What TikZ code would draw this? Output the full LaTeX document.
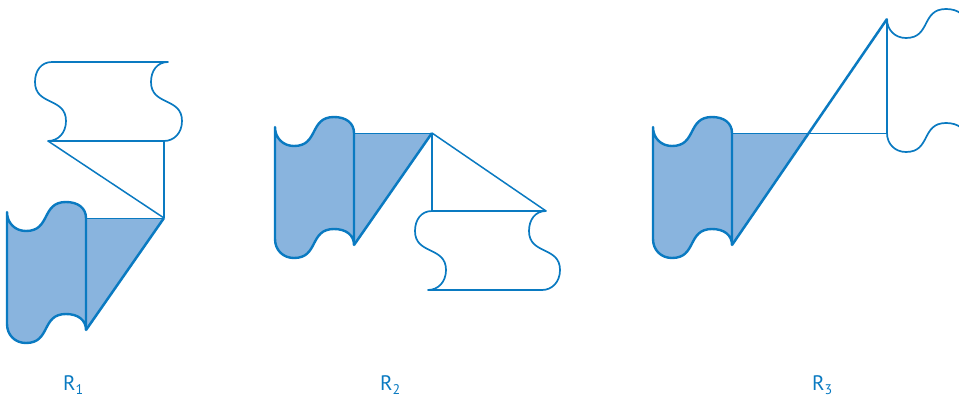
\documentclass[tikz,border=0pt]{standalone}
\usepackage{fontspec}
\newfontfamily\labelfont{PT Sans}
\definecolor{lineblue}{RGB}{10,122,193}
\definecolor{fillblue}{RGB}{137,180,222}

\begin{document}
\begin{tikzpicture}[x=1pt, y=-1pt, line join=round,
    shadedflag/.style={draw=lineblue, fill=fillblue, line width=2.4pt},
    whiteflag/.style={draw=lineblue, line width=1.7pt},
    edgethick/.style={draw=lineblue, line width=2.5pt},
    edgemid/.style={draw=lineblue, line width=1.5pt},
    edgethin/.style={draw=lineblue, line width=1pt},
    caption/.style={anchor=base west, inner sep=0pt, text=lineblue, font=\labelfont\fontsize{21}{24}\selectfont}]
    \useasboundingbox (0,0) rectangle (959,399);
    % R1
    \coordinate (a1) at (7,212);
    \coordinate (b1) at (86,218);
    \coordinate (c1) at (86,330);
    \coordinate (d1) at (164,218);
    \coordinate (e1) at (164,141);
    \coordinate (f1) at (48,141);
    \coordinate (g1) at (52,62);
    \coordinate (h1) at (168,62);
    \fill[fillblue] (b1) -- (d1) -- (c1) -- cycle;
    \draw[shadedflag] (a1) .. controls +(0,11) and +(-11,0) .. ++(19,19) .. controls +(25,0) and +(-25,0) .. ++(40,-29) .. controls +(12,0) and +(0,-10) .. ++(20,16)
        -- (c1) .. controls +(0,-10) and +(12,0) .. ++(-20,-16) .. controls +(-25,0) and +(25,0) .. ++(-40,29) .. controls +(-11,0) and +(0,11) .. ++(-19,-19) -- cycle;
    \draw[edgethick] (b1) -- (c1);
    \draw[edgethin] (b1) -- (d1);
    \draw[edgethick] (d1) -- (c1);
    \draw[edgethick] (e1) -- (d1);
    \draw[edgemid] (f1) -- (d1);
    \draw[whiteflag] (g1) -- (h1) .. controls +(-11,0) and +(0,-11) .. ++(-17,20) .. controls +(0,24) and +(0,-24) .. ++(31,39) .. controls +(0,12) and +(10,0) .. ++(-18,20)
        -- (f1) .. controls +(10,0) and +(0,12) .. ++(18,-20) .. controls +(0,-24) and +(0,24) .. ++(-31,-39) .. controls +(0,-11) and +(-11,0) .. ++(17,-20) -- cycle;
    % R2
    \coordinate (a2) at (275,127);
    \coordinate (b2) at (354,133);
    \coordinate (c2) at (354,245);
    \coordinate (d2) at (432,133);
    \coordinate (e2) at (432,211);
    \coordinate (f2) at (546,211);
    \coordinate (g2) at (428,290);
    \fill[fillblue] (b2) -- (d2) -- (c2) -- cycle;
    \draw[shadedflag] (a2) .. controls +(0,11) and +(-11,0) .. ++(19,19) .. controls +(25,0) and +(-25,0) .. ++(40,-29) .. controls +(12,0) and +(0,-10) .. ++(20,16)
        -- (c2) .. controls +(0,-10) and +(12,0) .. ++(-20,-16) .. controls +(-25,0) and +(25,0) .. ++(-40,29) .. controls +(-11,0) and +(0,11) .. ++(-19,-19) -- cycle;
    \draw[edgethick] (b2) -- (c2);
    \draw[edgethin] (b2) -- (d2);
    \draw[edgethick] (d2) -- (c2);
    \draw[edgethick] (d2) -- (e2);
    \draw[edgemid] (d2) -- (f2);
    \draw[whiteflag] (e2) -- (f2) .. controls +(-11,0) and +(0,-11) .. ++(-17,20) .. controls +(0,24) and +(0,-24) .. ++(31,39) .. controls +(0,12) and +(10,0) .. ++(-18,20)
        -- (g2) .. controls +(10,0) and +(0,12) .. ++(18,-20) .. controls +(0,-24) and +(0,24) .. ++(-31,-39) .. controls +(0,-11) and +(-11,0) .. ++(17,-20) -- cycle;
    % R3
    \coordinate (a3) at (653,127);
    \coordinate (b3) at (732,133);
    \coordinate (c3) at (732,245);
    \coordinate (e3) at (887,19);
    \coordinate (f3) at (887,133);
    \coordinate (d3) at (intersection of c3--e3 and b3--f3);
    \fill[fillblue] (b3) -- (d3) -- (c3) -- cycle;
    \draw[shadedflag] (a3) .. controls +(0,11) and +(-11,0) .. ++(19,19) .. controls +(25,0) and +(-25,0) .. ++(40,-29) .. controls +(12,0) and +(0,-10) .. ++(20,16)
        -- (c3) .. controls +(0,-10) and +(12,0) .. ++(-20,-16) .. controls +(-25,0) and +(25,0) .. ++(-40,29) .. controls +(-11,0) and +(0,11) .. ++(-19,-19) -- cycle;
    \draw[edgethick] (b3) -- (c3);
    \draw[edgethin] (b3) -- (f3);
    \draw[edgethick] (c3) -- (e3);
    \begin{scope}
        \clip (0,0) rectangle (959,399);
        \draw[whiteflag] (e3) .. controls +(0,11) and +(-11,0) .. ++(19,19) .. controls +(25,0) and +(-25,0) .. ++(40,-29) .. controls +(12,0) and +(0,-10) .. ++(20,16)
            -- ++(0,114) .. controls +(0,-10) and +(12,0) .. ++(-20,-16) .. controls +(-25,0) and +(25,0) .. ++(-40,29) .. controls +(-11,0) and +(0,11) .. ++(-19,-19) -- cycle;
    \end{scope}
    \draw[edgethick] (e3) -- (f3);
    % Labels
    \node[caption] (r1) at (63,390) {R\raisebox{-4pt}{\fontsize{14}{14}\selectfont 1}};
    \node[caption] (r2) at (380,390) {R\raisebox{-4pt}{\fontsize{14}{14}\selectfont 2}};
    \node[caption] (r3) at (812,390) {R\raisebox{-4pt}{\fontsize{14}{14}\selectfont 3}};
\end{tikzpicture}
\end{document}
